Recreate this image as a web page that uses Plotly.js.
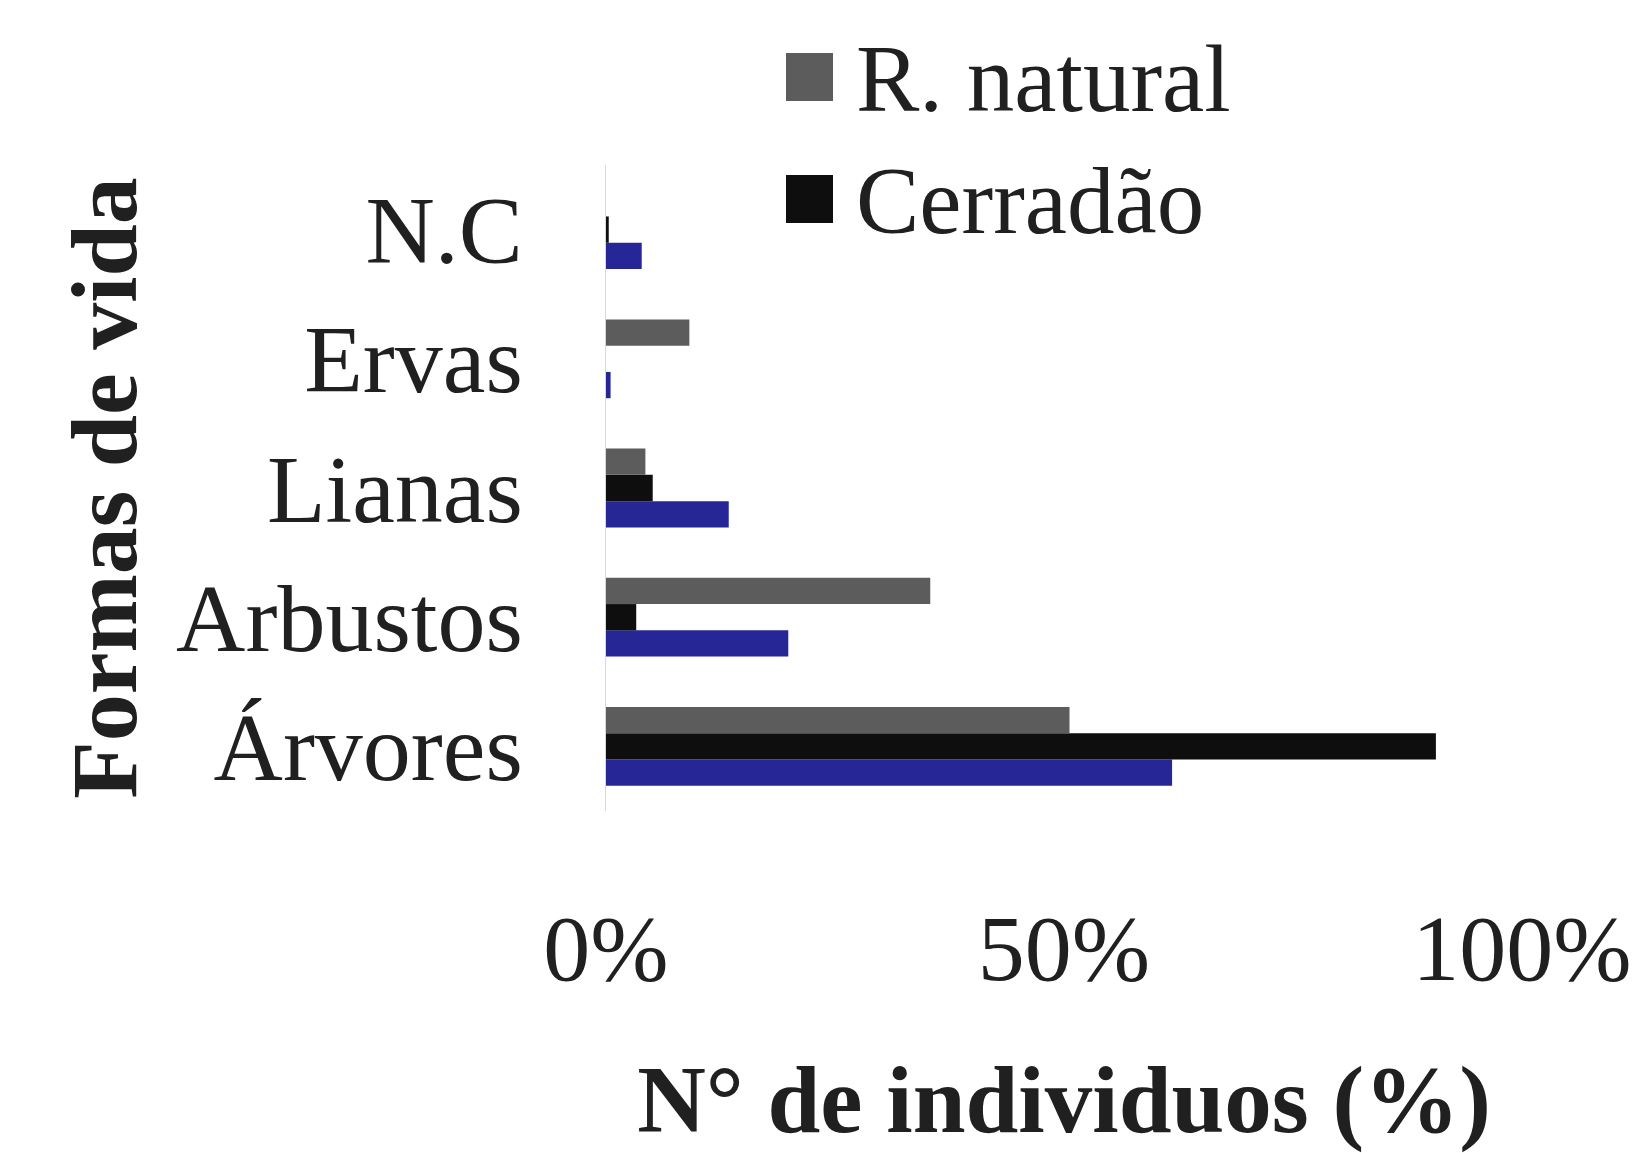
<!DOCTYPE html>
<html><head><meta charset="utf-8">
<script src="https://cdn.plot.ly/plotly-3.0.1.min.js"></script>
<style>html,body{margin:0;padding:0;background:#fff}</style>
</head><body><div id="chart" style="width:1640px;height:1153px"></div>
<script>
// ---- data ----
const categories = ['Árvores', 'Arbustos', 'Lianas', 'Ervas', 'N.C'];
const rNatural   = [50.6, 35.4, 4.3, 9.1, 0];
const cerradao   = [90.6, 3.3, 5.1, 0, 0.3];
const serie3     = [61.8, 19.9, 13.4, 0.5, 3.9];
const seriesNames = ['R. natural', 'Cerradão', 'Série 3'];
const xTickVals = [0, 50, 100];
const xTickText = ['0%', '50%', '100%'];
const xTitle = 'N° de individuos (%)';
const yTitle = 'Formas de vida';

// ---- style ----
const colors = ['#5c5c5c', '#0e0e0e', '#262696'];
const W = 1640, H = 1153;
const M = {l: 606, r: 118, t: 165, b: 342};
const pw = W - M.l - M.r, ph = H - M.t - M.b;
const px = x => (x - M.l) / pw;
const py = y => (H - M.b - y) / ph;
const FONT = 'Liberation Serif, Times New Roman, serif';
const TXT = '#202020';

// plotly grouped horizontal bars: first trace at bottom
const traces = [
  {name: seriesNames[2], y: categories, x: serie3, color: colors[2]},
  {name: seriesNames[1], y: categories, x: cerradao, color: colors[1]},
  {name: seriesNames[0], y: categories, x: rNatural, color: colors[0]}
].map(s => ({
  type: 'bar', orientation: 'h', name: s.name, x: s.x, y: s.y,
  marker: {color: s.color}, showlegend: false
}));

// custom legend (large square keys)
const legendRows = [
  {name: seriesNames[0], color: colors[0], top: 53, bottom: 101},
  {name: seriesNames[1], color: colors[1], top: 175, bottom: 223}
];
const shapes = legendRows.map(r => ({
  type: 'rect', xref: 'paper', yref: 'paper',
  x0: px(786), x1: px(833), y0: py(r.bottom), y1: py(r.top),
  fillcolor: r.color, line: {width: 0}
}));
const annotations = legendRows.map(r => ({
  xref: 'paper', yref: 'paper', x: px(854), y: py((r.top + r.bottom) / 2 + 2),
  xanchor: 'left', yanchor: 'middle', showarrow: false,
  text: r.name, font: {family: FONT, size: 95, color: TXT}
}));

const layout = {
  width: W, height: H,
  margin: M,
  paper_bgcolor: '#fff', plot_bgcolor: '#fff',
  barmode: 'group', bargap: 0.39, bargroupgap: 0,
  font: {family: FONT, size: 94, color: TXT},
  xaxis: {
    range: [0, 100], tickvals: xTickVals, ticktext: xTickText,
    showgrid: false, zeroline: false, showline: false, ticks: '',
    ticklabelstandoff: 74,
    tickfont: {family: FONT, size: 94, color: TXT},
    title: {text: xTitle, font: {family: FONT, size: 95, color: TXT, weight: 'bold'}, standoff: 75},
    automargin: 'height', fixedrange: true
  },
  yaxis: {
    type: 'category', categoryorder: 'array', categoryarray: categories,
    range: [-0.5, 4.5],
    showgrid: false, zeroline: false, showline: true, linecolor: '#d9d9d9', linewidth: 1,
    ticks: '', ticklabelstandoff: 63,
    tickfont: {family: FONT, size: 96, color: TXT},
    title: {text: yTitle, font: {family: FONT, size: 94, color: TXT, weight: 'bold'}, standoff: 8},
    automargin: 'width', fixedrange: true
  },
  shapes: shapes,
  annotations: annotations,
  showlegend: false
};

Plotly.newPlot('chart', traces, layout, {displayModeBar: false, staticPlot: true});
</script></body></html>
